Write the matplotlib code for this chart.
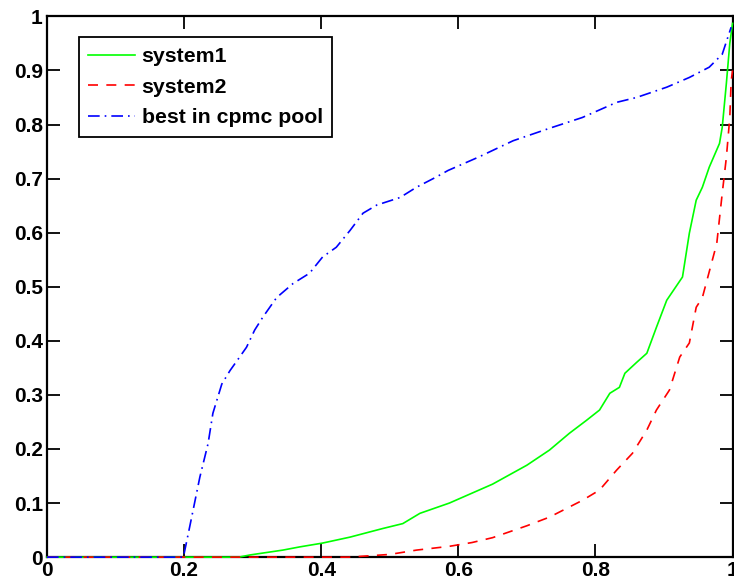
import numpy as np
import matplotlib.pyplot as plt

plt.rcParams["font.family"] = ["Liberation Sans", "DejaVu Sans"]
plt.rcParams["font.weight"] = "bold"

# values
x_sys1 = [0.0, 0.28, 0.296, 0.344, 0.369, 0.402, 0.442, 0.49, 0.519, 0.544, 0.587,
          0.65, 0.70, 0.733, 0.762, 0.787, 0.806, 0.821, 0.835, 0.843, 0.86, 0.875,
          0.889, 0.904, 0.927, 0.937, 0.947, 0.956, 0.966, 0.981, 0.985, 0.991,
          0.996, 1.0]
y_sys1 = [0.0, 0.0, 0.004, 0.013, 0.019, 0.026, 0.037, 0.053, 0.062, 0.081, 0.10,
          0.135, 0.17, 0.198, 0.229, 0.253, 0.272, 0.303, 0.314, 0.34, 0.36, 0.377,
          0.425, 0.475, 0.518, 0.599, 0.66, 0.684, 0.721, 0.765, 0.795, 0.876,
          0.95, 0.987]

x_sys2 = [0.0, 0.44, 0.5, 0.539, 0.587, 0.62, 0.65, 0.70, 0.733, 0.781, 0.806,
          0.831, 0.854, 0.875, 0.889, 0.908, 0.923, 0.937, 0.947, 0.956, 0.977,
          0.985, 0.991, 0.996, 0.998, 1.0]
y_sys2 = [0.0, 0.0, 0.005, 0.013, 0.02, 0.027, 0.036, 0.058, 0.074, 0.105, 0.124,
          0.161, 0.192, 0.235, 0.272, 0.309, 0.37, 0.396, 0.462, 0.48, 0.58,
          0.673, 0.739, 0.813, 0.88, 0.9]

x_best = [0.0, 0.199, 0.208, 0.223, 0.235, 0.242, 0.255, 0.267, 0.281, 0.291,
          0.303, 0.315, 0.335, 0.359, 0.383, 0.402, 0.422, 0.442, 0.461, 0.481,
          0.515, 0.539, 0.568, 0.585, 0.63, 0.68, 0.733, 0.781, 0.831, 0.86,
          0.904, 0.937, 0.966, 0.985, 0.998]
y_best = [0.0, 0.0, 0.055, 0.148, 0.21, 0.266, 0.32, 0.345, 0.37, 0.388,
          0.42, 0.444, 0.48, 0.506, 0.525, 0.555, 0.573, 0.604, 0.636, 0.651,
          0.665, 0.684, 0.703, 0.715, 0.74, 0.77, 0.793, 0.813, 0.841, 0.85,
          0.869, 0.887, 0.906, 0.93, 0.98]

x_ticks = [0, 0.2, 0.4, 0.6, 0.8, 1]
x_labels = ["0", "0.2", "0.4", "0.6", "0.8", "1"]
y_ticks = [0, 0.1, 0.2, 0.3, 0.4, 0.5, 0.6, 0.7, 0.8, 0.9, 1]
y_labels = ["0", "0.1", "0.2", "0.3", "0.4", "0.5", "0.6", "0.7", "0.8", "0.9", "1"]

fig = plt.figure(figsize=(7.34, 5.84), dpi=100)
ax = fig.add_axes([0.064, 0.046, 0.934, 0.926])

ax.plot(x_sys1, y_sys1, color="#00ff00", lw=1.2, label="system1",
        zorder=3, clip_on=False)
ax.plot(x_sys2, y_sys2, color="red", lw=1.2, linestyle=(0, (6, 5)), label="system2",
        zorder=3, clip_on=False)
ax.plot(x_best, y_best, color="blue", lw=1.2, linestyle=(0, (7, 3, 1, 3)),
        label="best in cpmc pool", zorder=3, clip_on=False)

ax.set_xlim(0, 1)
ax.set_ylim(0, 1)
ax.set_xticks(x_ticks)
ax.set_xticklabels(x_labels)
ax.set_yticks(y_ticks)
ax.set_yticklabels(y_labels)
ax.tick_params(direction="in", length=9.5, width=1.3, labelsize=15,
               top=True, right=True, pad=3)
for lab in ax.get_xticklabels() + ax.get_yticklabels():
    lab.set_fontweight("bold")
for s in ax.spines.values():
    s.set_linewidth(1.6)

leg = ax.legend(loc="upper left", bbox_to_anchor=(0.0466, 0.961), borderaxespad=0,
                fancybox=False, edgecolor="black", framealpha=1,
                prop={"weight": "bold", "size": 15.3},
                handlelength=2.2, handletextpad=0.3, borderpad=0.45,
                labelspacing=0.55)
leg.get_frame().set_linewidth(1.3)
leg.set_zorder(5)

plt.savefig("out.png", dpi=100)
